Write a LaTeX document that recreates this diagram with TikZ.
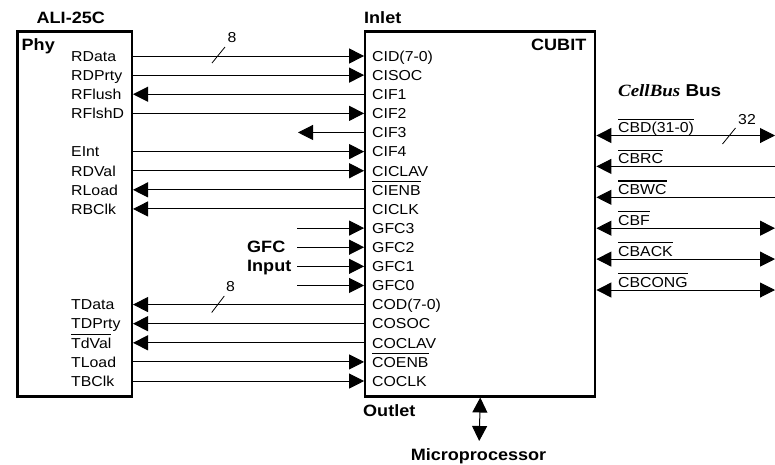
\documentclass[tikz,border=0pt]{standalone}
\usepackage{fontspec}
\setmainfont{Liberation Sans}[FakeStretch=1.1]
\newfontfamily\bisf{Liberation Serif}[FakeStretch=1.1]
\usetikzlibrary{arrows.meta}
\newsavebox\ovlbox
\newcommand\ovl[1]{\sbox\ovlbox{#1}\rlap{\rule[12.8pt]{\wd\ovlbox}{1.1pt}}\usebox\ovlbox}
\begin{document}
\begin{tikzpicture}[x=1pt,y=-1pt,
  sig/.style={font=\fontsize{14.4}{16}\selectfont, inner sep=0pt, anchor=base west},
  ttl/.style={font=\fontsize{16.4}{19}\selectfont\bfseries, inner sep=0pt, anchor=base west},
  box/.style={draw, line width=2.3pt, inner sep=0pt, anchor=north west},
  wire/.style={line width=1pt},
  tip/.tip={Triangle[length=15pt,width=15pt]},
  sl/.style={line width=0.8pt}]
\useasboundingbox (0,0) rectangle (775,464);
% boxes
\node[box, minimum width=114.5pt, minimum height=365pt] (ali) at (16.2,30.2) {};
\node[box, minimum width=230pt, minimum height=365pt] (cubit) at (364.1,30.2) {};
% rows
\foreach \i in {0,...,17} \coordinate (row\i) at (0,{56+19.12*\i});
% left labels
\foreach \i/\t in {0/RData,1/RDPrty,2/RFlush,3/RFlshD,5/EInt,6/RDVal,7/RLoad,8/RBClk,13/TData,14/TDPrty,15/{\ovl{TdVal}},16/TLoad,17/TBClk}
  \node[sig] (L\i) at (71,{61.3+19.12*\i}) {\t};
% right labels
\foreach \i/\t in {0/CID(7-0),1/CISOC,2/CIF1,3/CIF2,4/CIF3,5/CIF4,6/CICLAV,7/{\ovl{CIENB}},8/CICLK,9/GFC3,10/GFC2,11/GFC1,12/GFC0,13/COD(7-0),14/COSOC,15/COCLAV,16/{\ovl{COENB}},17/COCLK}
  \node[sig] (R\i) at (372,{61.3+19.12*\i}) {\t};
% connectors ALI -> CUBIT
\foreach \i in {0,1,3,5,6,16,17}
  \draw[wire,-tip] (ali.east |- row\i) -- (cubit.west |- row\i);
\foreach \i in {2,7,8,13,14,15}
  \draw[wire,-tip] (cubit.west |- row\i) -- (ali.east |- row\i);
% CIF3
\coordinate (cif3end) at (298,{56+19.12*4});
\draw[wire,-tip] (cubit.west |- row4) -- (cif3end);
% GFC inputs
\foreach \i in {9,...,12} {
  \coordinate (gfc\i) at (297,{56+19.12*\i});
  \draw[wire,-tip] (gfc\i) -- (cubit.west |- row\i);
}
% bus widths
\draw[sl] (212,63) -- (225,47);
\node[sig] (w8a) at (227.5,42) {8};
\draw[sl] (211.7,312.5) -- (224.3,296);
\node[sig] (w8b) at (226,291) {8};
% CellBus
\foreach \k in {0,...,5} {
  \coordinate (bus\k) at (775,{135.5+30.9*\k});
}
\foreach \k in {0,3,4,5}
  \draw[wire,tip-tip] (cubit.east |- bus\k) -- (bus\k);
\foreach \k in {1,2}
  \draw[wire,tip-] (cubit.east |- bus\k) -- (bus\k);
\foreach \k/\t in {0/CBD(31-0),1/CBRC,2/CBWC,3/CBF,4/CBACK,5/CBCONG}
  \node[sig] (B\k) at (618,{132.5+30.9*\k}) {\ovl{\t}};
\draw[sl] (722.5,144) -- (735.5,128);
\node[sig] (w32) at (738,124) {32};
% titles
\node[ttl] (alit) at (36.5,23.3) {ALI-25C};
\node[ttl] (phy) at (21.5,50.7) {Phy};
\node[ttl] (inlet) at (364,23.3) {Inlet};
\node[ttl, anchor=base east] (cubitt) at (586.5,50.7) {CUBIT};
\node[ttl] (outlet) at (363,416.5) {Outlet};
\node[ttl] (gfc) at (247,252.3) {GFC};
\node[ttl] (inp) at (247,271.5) {Input};
\node[ttl, font=\fontsize{17.2}{19}\selectfont\bfseries] (cb) at (618,96.7) {{\bisf\bfseries\itshape CellBus} Bus};
\node[ttl, anchor=base] (mp) at (478.5,460) {Microprocessor};
% microprocessor link
\coordinate (mptip) at (479.2,441);
\draw[wire,tip-tip] (cubit.south) -- (mptip);
\end{tikzpicture}
\end{document}
